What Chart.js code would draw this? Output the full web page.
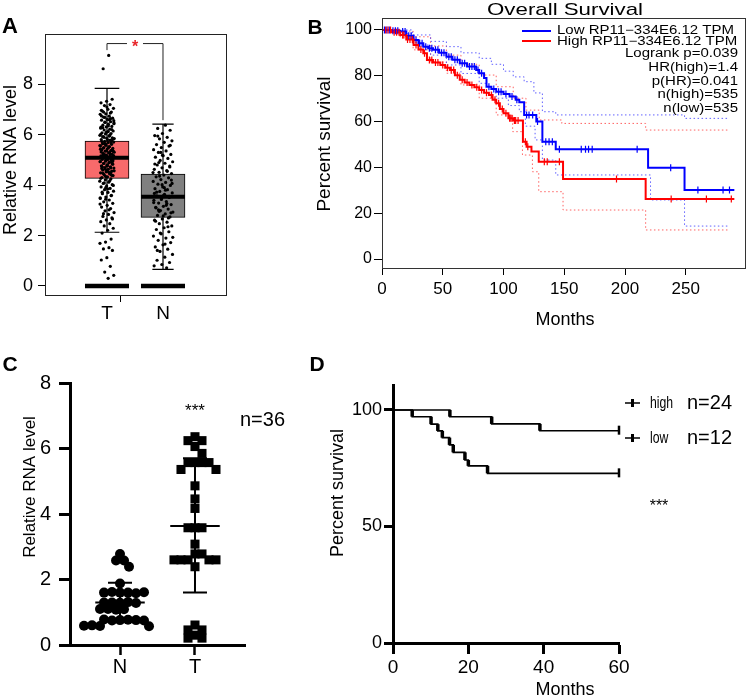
<!DOCTYPE html>
<html>
<head>
<meta charset="utf-8">
<script src="https://cdn.jsdelivr.net/npm/chart.js@4.4.1/dist/chart.umd.min.js"></script>
<style>
  body { margin: 0; background: #fff; width: 750px; height: 700px; position: relative; overflow: hidden; }
  canvas { position: absolute; }
</style>
</head>
<body>
<canvas id="cA" width="290" height="340" style="left:0;top:0"></canvas>
<canvas id="cB" width="460" height="340" style="left:290px;top:0"></canvas>
<canvas id="cC" width="300" height="360" style="left:0;top:340px"></canvas>
<canvas id="cD" width="450" height="360" style="left:300px;top:340px"></canvas>
<script>
// ---------- A: box plot (GEPIA style) ----------
const groupsA = ['T', 'N'];
const whiskerLo = [2.13, 0.66];
const boxQ1 = [4.27, 2.72];
const boxMed = [5.09, 3.54];
const boxQ3 = [5.75, 4.44];
const whiskerHi = [7.84, 6.42];
const yTicksA = [0, 2, 4, 6, 8];
const tumorDots = [9.15, 8.62, 7.41, 7.33, 7.27, 7.2, 7.16, 7.05, 7.01, 6.94, 6.9, 6.83, 6.81, 6.74, 6.7, 6.66,
  6.61, 6.58, 6.52, 6.49, 6.47, 6.42, 6.38, 6.33, 6.31, 6.26, 6.22, 6.19, 6.15, 6.12, 6.08, 6.05, 6.03, 5.98,
  5.95, 5.93, 5.88, 5.86, 5.81, 5.79, 5.74, 5.71, 5.69, 5.64, 5.62, 5.58, 5.55, 5.53, 5.49, 5.46, 5.44, 5.4,
  5.37, 5.35, 5.31, 5.28, 5.26, 5.22, 5.19, 5.16, 5.14, 5.1, 5.07, 5.05, 5.02, 4.98, 4.95, 4.93, 4.89, 4.86,
  4.83, 4.8, 4.77, 4.73, 4.7, 4.68, 4.63, 4.6, 4.56, 4.53, 4.49, 4.45, 4.42, 4.38, 4.33, 4.3, 4.25, 4.21,
  4.16, 4.12, 4.07, 4.02, 3.97, 3.93, 3.87, 3.82, 3.76, 3.71, 3.66, 3.6, 3.53, 3.47, 3.41, 3.34, 3.28, 3.2,
  3.13, 3.07, 2.98, 2.91, 2.84, 2.76, 2.7, 2.62, 2.55, 2.47, 2.38, 2.29, 2.21, 2.1, 1.86, 1.74, 1.69, 1.52,
  1.47, 1.41, 1.12, 1.03, 0.78, 0.55, 0.42, 0.3, 5.92, 5.77, 5.6, 5.43, 5.29, 5.13, 4.97, 4.81, 4.66, 4.5,
  4.36, 5.85, 5.5, 5.2, 4.9, 4.6, 6.3, 6.0, 5.66, 5.34, 5.02, 4.72, 4.41, 3.9, 3.5, 6.6, 6.9, 5.1, 4.75,
  6.75, 6.64, 6.5, 6.44, 6.35, 6.28, 6.21, 6.1, 6.02, 5.96, 5.9, 5.83, 5.8, 5.73, 5.68, 5.63, 5.57, 5.51,
  5.47, 5.41, 5.36, 5.32, 5.25, 5.21, 5.17, 5.11, 5.08, 5.03, 4.99, 4.94, 4.91, 4.87, 4.84, 4.78, 4.74, 4.69,
  4.64, 4.57, 4.52, 4.47, 4.39, 4.32, 4.27, 4.18, 4.09, 3.99, 3.85, 3.72, 3.58, 3.44, 3.25, 3.02, 2.87, 2.66,
  7.1, 6.97, 6.86, 6.69, 6.56, 6.13];
const normalDots = [6.38, 6.25, 6.18, 6.05, 5.97, 5.9, 5.84, 5.76, 5.7, 5.61, 5.55, 5.49, 5.41, 5.36, 5.3,
  5.22, 5.17, 5.11, 5.06, 4.98, 4.93, 4.87, 4.8, 4.76, 4.69, 4.63, 4.58, 4.51, 4.46, 4.4, 4.33, 4.29, 4.22,
  4.15, 4.11, 4.04, 3.99, 3.93, 3.86, 3.82, 3.75, 3.69, 3.64, 3.58, 3.51, 3.47, 3.4, 3.35, 3.29, 3.23, 3.16,
  3.12, 3.05, 2.99, 2.93, 2.86, 2.8, 2.74, 2.66, 2.61, 2.53, 2.47, 2.38, 2.31, 2.24, 2.15, 2.07, 1.98, 1.9,
  1.81, 1.72, 1.63, 1.55, 1.46, 1.37, 1.25, 1.14, 1.02, 0.93, 0.85, 0.8, 0.72, 4.9, 4.2, 3.6, 3.1, 2.7, 5.3,
  4.5, 3.8, 5.95, 5.58, 5.19, 4.84, 4.55, 4.36, 4.07, 3.9, 3.72, 3.56, 3.43, 3.31, 3.2, 3.02, 2.9, 2.78, 2.57,
  2.35, 2.1, 1.93, 1.66, 1.41, 4.72, 4.02, 3.67, 3.27, 2.96];
const bracketA = { top: 9.62, leftEnd: 9.36, rightEnd: 6.58 };

// ---------- B: Kaplan-Meier, GEPIA ----------
const xTicksB = [0, 50, 100, 150, 200, 250];
const yTicksB = [0, 20, 40, 60, 80, 100];
const lowMonths = [0, 8, 15, 20, 26, 30, 34, 38, 42, 47, 53, 58, 64, 70, 77.5, 80, 84, 86, 90, 94, 100, 105,
  110, 113, 117, 127, 132, 143, 219, 249, 290];
const lowSurv = [100, 99.6, 99.3, 97.5, 95.6, 94.2, 92.7, 92, 91.3, 90, 88.3, 87, 85.4, 84, 82.5, 81.1, 79,
  75.2, 74.2, 73, 72, 70.9, 69.5, 68.4, 62.9, 60, 51.2, 47.9, 39.9, 30.1, 30.1];
const highMonths = [0, 8, 15, 20, 26, 30, 34, 37, 42, 48, 52, 56, 60, 64, 68, 72, 76, 80, 84, 88, 91, 94, 97,
  100, 104, 108, 116, 119, 123, 129, 149, 217, 290];
const highSurv = [100, 99, 97.8, 95.8, 93.4, 91.5, 89.8, 86.9, 85.8, 84.7, 83.5, 82.5, 80.2, 78.2, 77, 76, 75,
  73.8, 72.6, 71.6, 69.5, 68, 65.5, 63.6, 61.5, 60.5, 51.2, 49, 46.9, 42.5, 34.9, 26.2, 26.2];
const lowUpMonths = [0, 15, 25, 40, 53, 65, 80, 90, 100, 108, 117, 125, 132, 143, 249, 286];
const lowUpSurv = [100, 100, 97.8, 95, 92.7, 90, 87.6, 85, 82, 79.5, 77.4, 72.5, 64.3, 62.9, 61.4, 61.4];
const lowLoMonths = [0, 15, 25.6, 40, 53, 65, 80, 86, 94, 104, 113, 118, 126, 132, 143, 221, 249, 286];
const lowLoSurv = [100, 98.5, 93.4, 89, 84.7, 81, 76.7, 72.5, 70.2, 67, 64.3, 58, 52, 43.2, 36.7, 25.8, 14.4, 14.4];
const highUpMonths = [0, 15, 25.6, 40, 53, 65, 80, 94, 108, 118.5, 129.4, 148, 217, 286];
const highUpSurv = [100, 99.5, 97, 93, 89, 85, 80.3, 75.2, 70.2, 65, 60.7, 59.2, 56.3, 56.3];
const highLoMonths = [0, 15, 25.6, 40, 53, 65, 80, 94, 107.5, 115.6, 123.8, 129, 149, 217, 286];
const highLoSurv = [100, 96.5, 91.3, 86, 81.1, 76, 70.2, 62.9, 55.6, 45.4, 38.1, 29.4, 21.4, 12.7, 12.7];
const lowCensor = [2, 4, 6, 9, 11, 13, 17, 19, 22, 24, 28, 31, 33, 36, 39, 41, 44, 46, 49, 51, 55, 57, 60, 62,
  66, 68, 72, 74, 76, 79, 82, 88, 92, 96, 98, 102, 107, 111, 119, 121, 124, 128, 134.8, 137.5, 140.2, 146,
  164, 167.5, 170, 173, 210, 237.6, 260, 280.7, 286];
const highCensor = [3, 5, 7, 10, 12, 14, 17, 18, 21, 23, 25, 28, 32, 35, 39, 41, 44, 46, 50, 54, 57, 59, 62, 66,
  70, 74, 78, 82, 86, 90, 93, 96, 99, 102, 105, 106, 107, 109, 110, 112, 118, 120, 133.6, 136, 146, 193, 238,
  267, 287.5];
const legendB = ['Low RP11\u2212334E6.12 TPM', 'High RP11\u2212334E6.12 TPM'];
const statsB = ['Logrank p=0.039', 'HR(high)=1.4', 'p(HR)=0.041', 'n(high)=535', 'n(low)=535'];

// ---------- C: dot plot, mean ± SD ----------
const groupsC = ['N', 'T'];
const yTicksC = [0, 2, 4, 6, 8];
const cNormal = [2.78, 2.58, 2.58, 2.39, 1.88, 1.6, 1.6, 1.62, 1.58, 1.6, 1.61, 1.29, 1.31, 1.3, 1.28, 1.3,
  1.09, 1.1, 1.08, 1.1, 0.76, 0.77, 0.75, 0.76, 0.78, 0.75, 0.58, 0.6, 0.57, 0.59];
const cTumor = [6.36, 6.24, 6.24, 6.06, 5.85, 5.57, 5.57, 5.57, 5.57, 5.36, 5.36, 4.86, 4.46, 4.17, 3.58, 3.58,
  3.58, 3.08, 2.78, 2.78, 2.6, 2.6, 2.6, 2.6, 2.6, 2.39, 0.61, 0.46, 0.46, 0.3, 0.21, 0.21];
const cMean = [1.3, 3.63];
const cSdHi = [1.9, 5.7];
const cSdLo = [0.7, 1.6];

// ---------- D: Kaplan-Meier, cohort ----------
const xTicksD = [0, 20, 40, 60];
const yTicksD = [0, 50, 100];
const highMonthsD = [0, 15.1, 26.2, 39, 60];
const highSurvD = [100, 97.1, 94, 91.1, 91.1];
const lowMonthsD = [0, 5.1, 10.1, 11.9, 13.1, 15, 16, 19.1, 20, 25.1, 60];
const lowSurvD = [100, 97.1, 93.9, 91, 88.1, 85, 81.8, 78.5, 76, 72.8, 72.8];

// ---------- helpers ----------
const FONT = '"Liberation Sans", Arial, Helvetica, sans-serif';
Chart.defaults.font.family = FONT;
Chart.defaults.color = '#000';

function txt(ctx, s, x, y, font, align = 'center', sx = 1, color = '#000', rot = 0) {
  ctx.save();
  ctx.font = font;
  ctx.fillStyle = color;
  ctx.textAlign = align;
  ctx.textBaseline = 'middle';
  ctx.translate(x, y);
  if (rot) ctx.rotate(rot);
  ctx.scale(sx, 1);
  ctx.fillText(s, 0, 0);
  ctx.restore();
}

function fixedAxis(o) {
  return {
    type: 'linear', min: o.min, max: o.max, offset: false,
    afterFit: s => { if (s.isHorizontal()) s.height = o.size; else s.width = o.size; },
    afterBuildTicks: s => { s.ticks = o.ticks.map(v => ({ value: v })); },
    grid: { drawOnChartArea: false, drawTicks: true, tickLength: o.tickLen, tickWidth: o.tickWidth || 1,
            tickColor: o.tickColor || '#000' },
    border: { display: !!o.line, color: '#000', width: o.line || 1 },
    ticks: { font: { size: o.font }, padding: o.pad, color: '#000', autoSkip: false, maxRotation: 0,
             callback: o.label || (v => v) }
  };
}

// pairs of points -> one line dataset with gaps
function segs(list) {
  const out = [];
  list.forEach(([a, b]) => out.push({ x: a[0], y: a[1] }, { x: b[0], y: b[1] }, { x: b[0], y: null }));
  return out;
}

function jitter(values, center, half) {
  return values.map((v, i) => ({ x: center + ((((i + 1) * 0.618034) % 1) - 0.5) * 2 * half, y: v }));
}

function steps(months, surv) {
  return months.map((m, i) => ({ x: m, y: surv[i] }));
}

function survAt(months, surv, t) {
  let i = 0;
  while (i + 1 < months.length && months[i + 1] <= t) i++;
  return surv[i];
}

// simple beeswarm in pixel space (xPx / yPx = pixels per data unit)
function swarm(values, center, size, xPx, yPx, square) {
  const placed = [];
  return values.map(v => {
    const py = v * yPx;
    let off = 0;
    for (let k = 0; k < 400; k++) {
      const cand = (k % 2 ? 1 : -1) * Math.ceil(k / 2);
      const clash = placed.some(p => square
        ? Math.abs(p.x - cand) < size && Math.abs(p.y - py) < size
        : Math.hypot(p.x - cand, p.y - py) < size);
      if (!clash) { off = cand; break; }
    }
    placed.push({ x: off, y: py });
    return { x: center + off / xPx, y: v };
  });
}

const baseOpts = {
  responsive: false, animation: false, devicePixelRatio: 1,
  plugins: { legend: { display: false }, tooltip: { enabled: false } }
};

// ---------- chart A ----------
const boxHalf = 0.393;
new Chart(document.getElementById('cA'), {
  type: 'bar',
  data: {
    datasets: [
      {
        type: 'bar', order: 10,
        data: groupsA.map((g, i) => ({ x: i + 1, y: [boxQ1[i], boxQ3[i]] })),
        backgroundColor: ['#f76a6b', '#808080'], borderColor: '#000', borderWidth: 1,
        borderSkipped: false, barThickness: 44
      },
      {
        type: 'line', order: 9, borderColor: '#000', borderWidth: 1.2, pointRadius: 0,
        data: segs(groupsA.flatMap((g, i) => {
          const c = i + 1, w = i === 0 ? 0.22 : 0.19;
          return [[[c, whiskerLo[i]], [c, boxQ1[i]]], [[c, boxQ3[i]], [c, whiskerHi[i]]],
                  [[c - w, whiskerLo[i]], [c + w, whiskerLo[i]]], [[c - w, whiskerHi[i]], [c + w, whiskerHi[i]]]];
        }))
      },
      {
        type: 'line', order: 8, borderColor: '#000', borderWidth: 4.5, pointRadius: 0,
        data: segs(groupsA.map((g, i) => [[i + 1 - boxHalf, 0], [i + 1 + boxHalf, 0]]))
      },
      {
        type: 'scatter', order: 5, pointRadius: 1.6, pointBackgroundColor: '#000', pointBorderWidth: 0,
        data: jitter(tumorDots, 1, 0.13).concat(jitter(normalDots, 2, 0.18))
      },
      {
        type: 'line', order: 1, borderColor: '#000', borderWidth: 4, pointRadius: 0,
        data: segs(groupsA.map((g, i) => [[i + 1 - boxHalf, boxMed[i]], [i + 1 + boxHalf, boxMed[i]]]))
      }
    ]
  },
  options: {
    ...baseOpts,
    layout: { padding: { left: 0, top: 34, right: 64, bottom: 0 } },
    scales: {
      x: fixedAxis({ min: -0.107, max: 3.125, ticks: [1, 1.5, 2], size: 45, tickLen: 7, font: 19, pad: 0,
                     tickColor: c => (c.tick && c.tick.value === 1.5 ? '#000' : 'rgba(0,0,0,0)'),
                     label: v => groupsA[v - 1] || '' }),
      y: fixedAxis({ min: -0.36, max: 10, ticks: yTicksA, size: 45, tickLen: 7, font: 18, pad: 5 })
    }
  },
  plugins: [{
    id: 'overlayA',
    afterDraw(chart) {
      const { ctx, chartArea: ca, scales: { x, y } } = chart;
      ctx.save();
      ctx.strokeStyle = '#222';
      ctx.lineWidth = 1;
      ctx.strokeRect(Math.round(ca.left) + 0.5, Math.round(ca.top) + 0.5,
                     Math.round(ca.right - ca.left), Math.round(ca.bottom - ca.top));
      const x1 = x.getPixelForValue(1), x2 = x.getPixelForValue(2), mid = (x1 + x2) / 2;
      const by = y.getPixelForValue(bracketA.top);
      ctx.beginPath();
      ctx.moveTo(x1, y.getPixelForValue(bracketA.leftEnd));
      ctx.lineTo(x1, by); ctx.lineTo(mid - 8, by);
      ctx.moveTo(mid + 8, by); ctx.lineTo(x2, by);
      ctx.lineTo(x2, y.getPixelForValue(bracketA.rightEnd));
      ctx.stroke();
      ctx.restore();
      txt(ctx, '*', mid, by + 4, 'bold 16px ' + FONT, 'center', 1, '#e8262b');
      txt(ctx, 'A', 10, 27, 'bold 22px ' + FONT);
      txt(ctx, 'Relative RNA level', 11, 160, '18px ' + FONT, 'center', 1, '#000', -Math.PI / 2);
    }
  }]
});

// ---------- chart B ----------
const RED = '#ff0000', BLUE = '#0000ff';
function kmLine(months, surv, color) {
  return { data: steps(months, surv), stepped: true, borderColor: color, borderWidth: 2, pointRadius: 0, order: 2 };
}
function ciLine(months, surv, color) {
  return { data: steps(months, surv), stepped: true, borderColor: color, borderWidth: 1, borderDash: [1.5, 2.5],
           pointRadius: 0, order: 5 };
}
function censor(times, months, surv, color, r) {
  return { type: 'scatter', data: times.map(t => ({ x: t, y: survAt(months, surv, t) })), pointStyle: 'line',
           rotation: 90, pointRadius: r, pointBorderColor: color, pointBorderWidth: 1.2, order: 1 };
}
new Chart(document.getElementById('cB'), {
  type: 'line',
  data: {
    datasets: [
      ciLine(lowUpMonths, lowUpSurv, 'rgba(70,70,255,0.85)'),
      ciLine(lowLoMonths, lowLoSurv, 'rgba(70,70,255,0.85)'),
      ciLine(highUpMonths, highUpSurv, 'rgba(255,70,70,0.85)'),
      ciLine(highLoMonths, highLoSurv, 'rgba(255,70,70,0.85)'),
      kmLine(highMonths, highSurv, RED),
      kmLine(lowMonths, lowSurv, BLUE),
      censor(highCensor, highMonths, highSurv, RED, 3.5),
      censor(lowCensor, lowMonths, lowSurv, BLUE, 3.5)
    ]
  },
  options: {
    ...baseOpts,
    layout: { padding: { left: 0, top: 18, right: 3, bottom: 0 } },
    scales: {
      x: fixedAxis({ min: 0, max: 298.6, ticks: xTicksB, size: 72, tickLen: 7, font: 17, pad: 4 }),
      y: fixedAxis({ min: -3.9, max: 105.2, ticks: yTicksB, size: 92, tickLen: 8, font: 16, pad: 2 })
    }
  },
  plugins: [{
    id: 'overlayB',
    afterDraw(chart) {
      const { ctx, chartArea: ca } = chart;
      ctx.save();
      ctx.strokeStyle = '#333';
      ctx.lineWidth = 1;
      ctx.strokeRect(Math.round(ca.left) + 0.5, Math.round(ca.top) + 0.5,
                     Math.round(ca.right - ca.left), Math.round(ca.bottom - ca.top));
      [BLUE, RED].forEach((c, i) => {
        ctx.strokeStyle = c;
        ctx.lineWidth = 2;
        ctx.beginPath();
        ctx.moveTo(232, 31 + i * 10);
        ctx.lineTo(261, 31 + i * 10);
        ctx.stroke();
      });
      ctx.restore();
      legendB.forEach((s, i) => txt(ctx, s, 267, 31 + i * 10.5, '12px ' + FONT, 'left', 1.25));
      statsB.forEach((s, i) => txt(ctx, s, 448, 54 + i * 13.6, '12px ' + FONT, 'right', 1.25));
      txt(ctx, 'Overall Survival', 275, 10, '17px ' + FONT, 'center', 1.31);
      txt(ctx, 'Percent survival', 35, 144, '19px ' + FONT, 'center', 1, '#000', -Math.PI / 2);
      txt(ctx, 'Months', 275, 320, '18px ' + FONT);
      txt(ctx, 'B', 25, 28, 'bold 21px ' + FONT);
    }
  }]
});

// ---------- chart C ----------
const cxPx = 75, cyPx = 32.75;
new Chart(document.getElementById('cC'), {
  type: 'scatter',
  data: {
    datasets: [
      { data: swarm(cNormal, 1, 7.5, cxPx, cyPx, false), pointStyle: 'circle', pointRadius: 5,
        pointBackgroundColor: '#000', pointBorderWidth: 0, order: 5 },
      { data: swarm(cTumor, 2, 7, cxPx, cyPx, true), pointStyle: 'rect', pointRadius: 6.4,
        pointBackgroundColor: '#000', pointBorderWidth: 0, order: 5 },
      {
        type: 'line', order: 1, borderColor: '#000', borderWidth: 2, pointRadius: 0,
        data: segs(groupsC.flatMap((g, i) => {
          const c = i + 1;
          return [[[c - 0.33, cMean[i]], [c + 0.33, cMean[i]]], [[c, cSdLo[i]], [c, cSdHi[i]]],
                  [[c - 0.16, cSdLo[i]], [c + 0.16, cSdLo[i]]], [[c - 0.16, cSdHi[i]], [c + 0.16, cSdHi[i]]]];
        }))
      }
    ]
  },
  options: {
    ...baseOpts,
    layout: { padding: { left: 0, top: 43, right: 55, bottom: 0 } },
    scales: {
      x: fixedAxis({ min: 0.333, max: 2.667, ticks: [1, 2], size: 55, tickLen: 10, tickWidth: 2.5, line: 3,
                     font: 20, pad: 0, label: v => groupsC[v - 1] || '' }),
      y: fixedAxis({ min: 0, max: 8, ticks: yTicksC, size: 70, tickLen: 11, tickWidth: 3, line: 3,
                     font: 20, pad: 8 })
    }
  },
  plugins: [{
    id: 'overlayC',
    afterDraw(chart) {
      const { ctx } = chart;
      txt(ctx, 'C', 10, 25, 'bold 21px ' + FONT);
      txt(ctx, 'Relative RNA level', 30, 147, '17px ' + FONT, 'center', 1, '#000', -Math.PI / 2);
      txt(ctx, '***', 195, 71, '17px ' + FONT);
      txt(ctx, 'n=36', 240, 80, '20px ' + FONT, 'left');
    }
  }]
});

// ---------- chart D ----------
const kmD = [[highMonthsD, highSurvD], [lowMonthsD, lowSurvD]];
new Chart(document.getElementById('cD'), {
  type: 'line',
  data: {
    datasets: kmD.map(([m, s]) => ({ data: steps(m, s), stepped: true, borderColor: '#000', borderWidth: 1.6,
                                     pointRadius: 0 }))
  },
  options: {
    ...baseOpts,
    layout: { padding: { left: 0, top: 45, right: 131, bottom: 0 } },
    scales: {
      x: fixedAxis({ min: 0, max: 60, ticks: xTicksD, size: 57, tickLen: 11, tickWidth: 3, line: 3,
                     font: 19, pad: 2 }),
      y: fixedAxis({ min: 0, max: 110.7, ticks: yTicksD, size: 93, tickLen: 9, tickWidth: 3, line: 3,
                     font: 18, pad: 2 })
    }
  },
  plugins: [{
    id: 'overlayD',
    afterDraw(chart) {
      const { ctx, scales: { x, y } } = chart;
      ctx.save();
      ctx.strokeStyle = '#000';
      kmD.forEach(([m, s]) => {
        ctx.lineWidth = 3.5;
        for (let i = 1; i < m.length; i++) {
          if (s[i] >= s[i - 1]) continue;
          const px = x.getPixelForValue(m[i]);
          ctx.beginPath();
          ctx.moveTo(px, y.getPixelForValue(s[i - 1]));
          ctx.lineTo(px, y.getPixelForValue(s[i]));
          ctx.stroke();
        }
        const ex = x.getPixelForValue(m[m.length - 1]), ey = y.getPixelForValue(s[s.length - 1]);
        ctx.lineWidth = 2.5;
        ctx.beginPath();
        ctx.moveTo(ex, ey - 5);
        ctx.lineTo(ex, ey + 4);
        ctx.stroke();
      });
      [63, 98].forEach(ly => {
        ctx.lineWidth = 1.5;
        ctx.beginPath(); ctx.moveTo(325, ly); ctx.lineTo(340, ly); ctx.stroke();
        ctx.lineWidth = 3;
        ctx.beginPath(); ctx.moveTo(332.5, ly - 4); ctx.lineTo(332.5, ly + 4); ctx.stroke();
      });
      ctx.restore();
      txt(ctx, 'high', 350, 63, '17px ' + FONT, 'left', 0.72);
      txt(ctx, 'low', 350, 98, '17px ' + FONT, 'left', 0.72);
      txt(ctx, 'n=24', 387, 63, '20px ' + FONT, 'left');
      txt(ctx, 'n=12', 387, 98, '20px ' + FONT, 'left');
      txt(ctx, '***', 359, 167, '16px ' + FONT);
      txt(ctx, 'Percent survival', 38, 153, '18px ' + FONT, 'center', 1, '#000', -Math.PI / 2);
      txt(ctx, 'Months', 265, 350, '18px ' + FONT);
      txt(ctx, 'D', 17, 25, 'bold 21px ' + FONT);
    }
  }]
});
</script>
</body>
</html>
